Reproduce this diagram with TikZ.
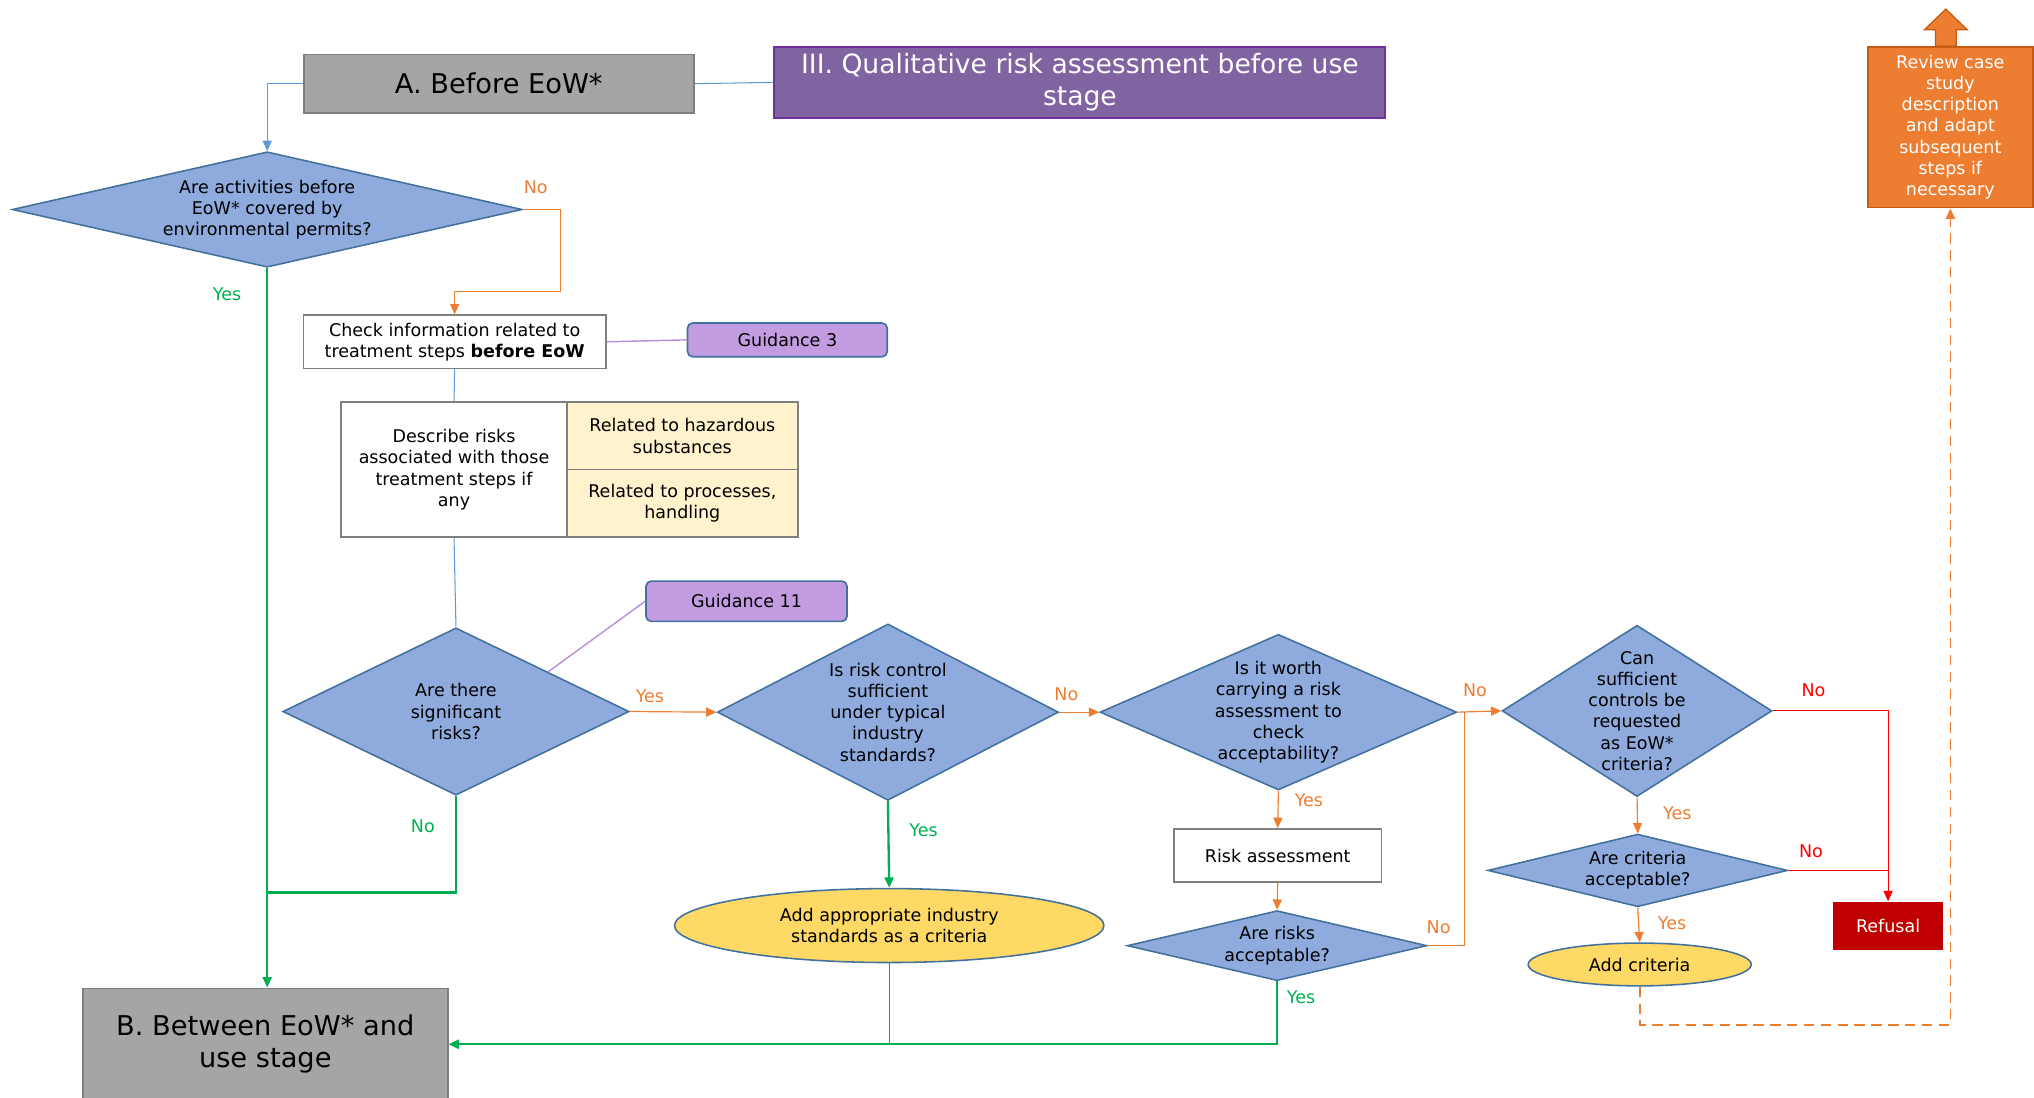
\documentclass[tikz,border=0pt]{standalone}
\usepackage{fontspec}
\setmainfont{DejaVu Sans}
\usetikzlibrary{shapes.geometric,arrows.meta,calc}
\definecolor{diafill}{HTML}{8FAADC}
\definecolor{diaedge}{HTML}{41719C}
\definecolor{greyfill}{HTML}{A5A5A5}
\definecolor{greyedge}{HTML}{7F7F7F}
\definecolor{purfill}{HTML}{8064A2}
\definecolor{puredge}{HTML}{7030A0}
\definecolor{guidefill}{HTML}{C39BE1}
\definecolor{creamfill}{HTML}{FFF2CC}
\definecolor{yellowfill}{HTML}{FFD966}
\definecolor{orangefill}{HTML}{ED7D31}
\definecolor{orangeedge}{HTML}{C55A11}
\definecolor{refusalred}{HTML}{C00000}
\definecolor{lineorange}{HTML}{ED7D31}
\definecolor{linegreen}{HTML}{00B050}
\definecolor{lineblue}{HTML}{5B9BD5}
\definecolor{linepurple}{HTML}{B88FE0}
\definecolor{linered}{HTML}{FF0000}
\tikzset{
  base/.style={font=\fontsize{13.5}{16.4}\selectfont, align=center, inner sep=0pt},
  dia/.style={diamond, draw=diaedge, fill=diafill, line width=1.2pt, inner sep=0pt},
  whitebox/.style={base, rectangle, draw=greyedge, fill=white, line width=1.3pt},
  greybox/.style={base, rectangle, draw=greyedge, fill=greyfill, line width=1.5pt, font=\fontsize{21}{25}\selectfont},
  creambox/.style={base, rectangle, draw=greyedge, fill=creamfill, line width=1.3pt},
  guide/.style={base, rectangle, rounded corners=4pt, draw=diaedge, fill=guidefill, line width=1.3pt},
  oval/.style={base, ellipse, draw=diaedge, fill=yellowfill, line width=1.2pt},
  tip/.style={-{Triangle[length=8pt,width=7pt]}},
  oline/.style={draw=lineorange, line width=0.9pt},
  gline/.style={draw=linegreen, line width=0.9pt},
  gthick/.style={draw=linegreen, line width=1.8pt},
  bline/.style={draw=lineblue, line width=0.8pt},
  rline/.style={draw=linered, line width=0.9pt},
  pline/.style={draw=linepurple, line width=1.1pt},
  olab/.style={base, text=lineorange, font=\fontsize{13.5}{16}\selectfont},
  glab/.style={base, text=linegreen, font=\fontsize{13.5}{16}\selectfont},
  rlab/.style={base, text=linered, font=\fontsize{13.5}{16}\selectfont},
}
\begin{document}
\begin{tikzpicture}[x=1pt, y=-1pt]
\useasboundingbox (0,0) rectangle (1568,846);

% ---- headers
\node[greybox, minimum width=301pt, minimum height=45pt] (A) at (384.5,64.5) {A. Before EoW*};
\node[base, rectangle, draw=puredge, fill=purfill, line width=1.5pt, text=white,
      font=\fontsize{20.5}{25}\selectfont, minimum width=471pt, minimum height=55pt]
      (T) at (832.5,63.5) {III. Qualitative risk assessment before use\\stage};
\node[greybox, minimum width=281pt, minimum height=86pt] (B) at (204.5,805) {B. Between EoW* and\\use stage};

% ---- left column
\node[dia, minimum width=393pt, minimum height=89pt] (d1) at (206,161.5) {};
\node[base] at (d1) {Are activities before\\EoW* covered by\\environmental permits?};
\node[whitebox, minimum width=233pt, minimum height=41pt] (check) at (350.5,263.5)
  {Check information related to\\treatment steps \textbf{before EoW}};
\node[guide, minimum width=154pt, minimum height=26pt] (g3) at (607,262) {Guidance 3};
\node[whitebox, minimum width=174pt, minimum height=104pt] (desc) at (350,362)
  {Describe risks\\associated with those\\treatment steps if\\any};
\node[creambox, minimum width=178pt, minimum height=52pt] (haz) at (526,336) {Related to hazardous\\substances};
\node[creambox, minimum width=178pt, minimum height=52pt] (proc) at (526,388) {Related to processes,\\handling};
\node[dia, minimum width=267pt, minimum height=129pt] (d2) at (351.5,548.5) {};
\node[base] at (d2) {Are there\\significant\\risks?};
\node[guide, minimum width=155pt, minimum height=31pt] (g11) at (575.5,463.5) {Guidance 11};

% ---- middle row
\node[dia, minimum width=263pt, minimum height=136pt] (d3) at (684.5,549) {};
\node[base] at (d3) {Is risk control\\sufficient\\under typical\\industry\\standards?};
\node[oval, minimum width=331pt, minimum height=57pt] (e2) at (685.5,713.5) {Add appropriate industry\\standards as a criteria};
\node[dia, minimum width=275pt, minimum height=120pt] (d4) at (985.5,549) {};
\node[base] at (d4) {Is it worth\\carrying a risk\\assessment to\\check\\acceptability?};
\node[whitebox, minimum width=160pt, minimum height=41pt] (risk) at (985,659.5) {Risk assessment};
\node[dia, minimum width=231pt, minimum height=54pt] (d7) at (984.5,729) {};
\node[base] at (d7) {Are risks\\acceptable?};

% ---- right column
\node[dia, minimum width=208pt, minimum height=132pt] (d5) at (1262,548) {};
\node[base] at (d5) {Can\\sufficient\\controls be\\requested\\as EoW*\\criteria?};
\node[dia, minimum width=231pt, minimum height=56pt] (d6) at (1262.5,671) {};
\node[base] at (d6) {Are criteria\\acceptable?};
\node[oval, minimum width=172pt, minimum height=33pt] (addc) at (1264,743.5) {Add criteria};
\node[base, rectangle, fill=refusalred, text=white, minimum width=85pt, minimum height=37pt] (ref) at (1455.5,713.5) {Refusal};
\node[base, rectangle, draw=orangeedge, fill=orangefill, line width=1.3pt, text=white,
      minimum width=127pt, minimum height=124pt] (rev) at (1503.5,98)
  {Review case\\study\\description\\and adapt\\subsequent\\steps if\\necessary};
% block arrow on top of the review box
\draw[draw=orangeedge, fill=orangefill, line width=1pt]
  (1492,35.5) -- (1492,23) -- (1483.5,23) -- (1500,7) -- (1516.5,23) -- (1508,23) -- (1508,35.5) -- cycle;

% ---- blue / purple connectors
\draw[bline] (A.east) -- (T.west);
\draw[bline, tip] (A.west) -| (d1.north);
\draw[bline] (check.south) -- (desc.north);
\draw[bline] (desc.south) -- (d2.north);
\draw[pline] (check.east) -- (g3.west);
\draw[pline] ($(d2.north)!0.53!(d2.east)$) -- (g11.west);

% ---- orange connectors
\coordinate (n1) at (432,225);
\draw[oline, tip] (d1.east) -| (n1) -| (check.north);
\draw[oline, tip] (d2.east) -- (d3.west);
\draw[oline, tip] (d3.east) -- (d4.west);
\draw[oline, tip] (d4.east) -- (d5.west);
\draw[oline, tip] (d4.south) -- (risk.north);
\draw[oline, tip] (risk.south) -- (d7.north);
\coordinate (n2) at (1129,549);
\draw[oline] (d7.east) -| (n2);
\draw[oline, tip] (d5.south) -- (d6.north);
\draw[oline, tip] (d6.south) -- (addc.north);
\coordinate (n3) at (1503.5,790);
\draw[oline, line width=1.3pt, dash pattern=on 8pt off 5pt, tip] (addc.south) |- (n3) -- (rev.south);

% ---- red connectors
\draw[rline, tip] (d5.east) -| (ref.north);
\draw[rline] (d6.east) -- (d6.east -| ref.north);

% ---- green connectors
\coordinate (j1) at (206,688);
\draw[gthick, tip] (d1.south) -- (d1.south |- B.north);
\draw[gthick] (d2.south) |- (j1);
\draw[gthick, tip] (d3.south) -- (e2.north);
\draw[gline] (e2.south) -- (e2.south |- B.east);
\draw[gthick, tip] (d7.south) |- (B.east);

% ---- branch labels
\node[olab] at (413,144) {No};
\node[glab] at (175,227) {Yes};
\node[olab] at (501,537) {Yes};
\node[glab] at (326,637) {No};
\node[olab] at (822,535) {No};
\node[glab] at (712,640) {Yes};
\node[olab] at (1137,532) {No};
\node[olab] at (1009,617) {Yes};
\node[olab] at (1109,715) {No};
\node[glab] at (1003,769) {Yes};
\node[rlab] at (1398,532) {No};
\node[olab] at (1293,627) {Yes};
\node[rlab] at (1396,656) {No};
\node[olab] at (1289,712) {Yes};
\end{tikzpicture}
\end{document}
